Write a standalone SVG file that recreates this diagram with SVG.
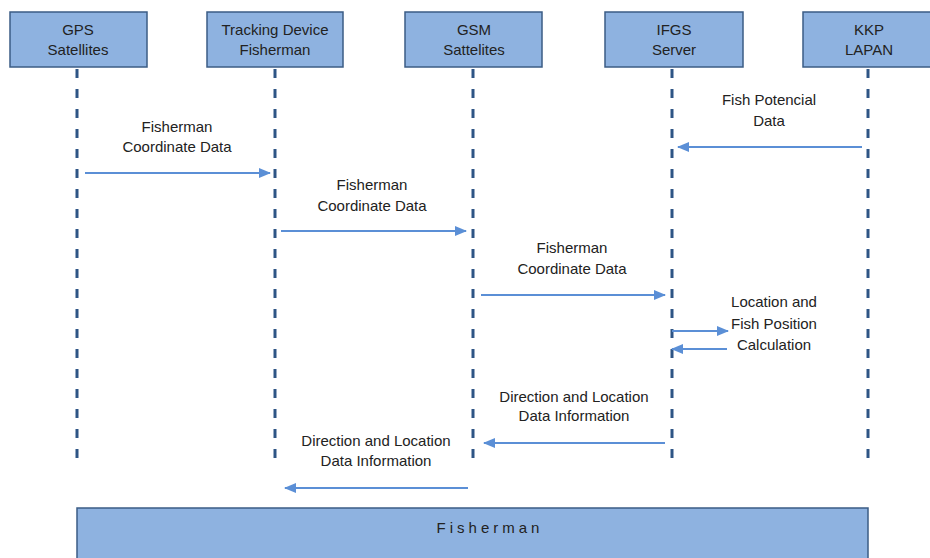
<svg xmlns="http://www.w3.org/2000/svg" width="930" height="558" viewBox="0 0 930 558">
<style>
.box{fill:#8eb2e0;stroke:#3b5c85;stroke-width:1.5}
.t{font-family:"Liberation Sans",Arial,sans-serif;font-size:15px;fill:#222;text-anchor:middle}
.life{stroke:#2e5585;stroke-width:3;stroke-dasharray:9 11;fill:none}
.msg{stroke:#5b8fd6;stroke-width:2;fill:none;marker-end:url(#ah)}
</style>
<defs>
<marker id="ah" markerWidth="12" markerHeight="10" refX="11" refY="5" orient="auto" markerUnits="userSpaceOnUse">
<path d="M0,0 L12,5 L0,10 Z" fill="#5b8fd6"/>
</marker>
</defs>
<rect width="930" height="558" fill="#fff"/>
<g id="gps">
<rect class="box" x="10" y="12" width="137" height="55"/>
<text class="t" x="78" y="35">GPS</text>
<text class="t" x="78" y="55">Satellites</text>
</g>
<g id="tracking">
<rect class="box" x="207" y="12" width="136" height="55"/>
<text class="t" x="275" y="35">Tracking Device</text>
<text class="t" x="275" y="55">Fisherman</text>
</g>
<g id="gsm">
<rect class="box" x="405" y="12" width="137" height="55"/>
<text class="t" x="474" y="35">GSM</text>
<text class="t" x="474" y="55">Sattelites</text>
</g>
<g id="ifgs">
<rect class="box" x="605" y="12" width="138" height="55"/>
<text class="t" x="674" y="35">IFGS</text>
<text class="t" x="674" y="55">Server</text>
</g>
<g id="kkp">
<rect class="box" x="803" y="12" width="140" height="55"/>
<text class="t" x="869" y="35">KKP</text>
<text class="t" x="869" y="55">LAPAN</text>
</g>
<g id="fisherman">
<rect class="box" x="77" y="508" width="791" height="60"/>
<text class="t" x="490" y="533" letter-spacing="4">Fisherman</text>
</g>
<g id="lifelines">
<line class="life" x1="77" y1="69" x2="77" y2="466"/>
<line class="life" x1="275" y1="69" x2="275" y2="466"/>
<line class="life" x1="473" y1="69" x2="473" y2="466"/>
<line class="life" x1="672" y1="69" x2="672" y2="466"/>
<line class="life" x1="868" y1="69" x2="868" y2="466"/>
</g>
<g id="connectors">
<line class="msg" x1="85" y1="173" x2="270" y2="173"/>
<line class="msg" x1="281" y1="231" x2="466" y2="231"/>
<line class="msg" x1="481" y1="295" x2="665" y2="295"/>
<line class="msg" x1="862" y1="147" x2="678" y2="147"/>
<line class="msg" x1="672" y1="331" x2="728" y2="331"/>
<line class="msg" x1="727" y1="349" x2="672" y2="349"/>
<line class="msg" x1="665" y1="443" x2="484" y2="443"/>
<line class="msg" x1="468" y1="488" x2="285" y2="488"/>
</g>
<g id="labels">
<text class="t" x="177" y="132">Fisherman</text>
<text class="t" x="177" y="152">Coordinate Data</text>
<text class="t" x="372" y="190">Fisherman</text>
<text class="t" x="372" y="211">Coordinate Data</text>
<text class="t" x="572" y="253">Fisherman</text>
<text class="t" x="572" y="274">Coordinate Data</text>
<text class="t" x="769" y="105">Fish Potencial</text>
<text class="t" x="769" y="126">Data</text>
<text class="t" x="774" y="307">Location and</text>
<text class="t" x="774" y="329">Fish Position</text>
<text class="t" x="774" y="350">Calculation</text>
<text class="t" x="574" y="402">Direction and Location</text>
<text class="t" x="574" y="421">Data Information</text>
<text class="t" x="376" y="446">Direction and Location</text>
<text class="t" x="376" y="466">Data Information</text>
</g>
</svg>
